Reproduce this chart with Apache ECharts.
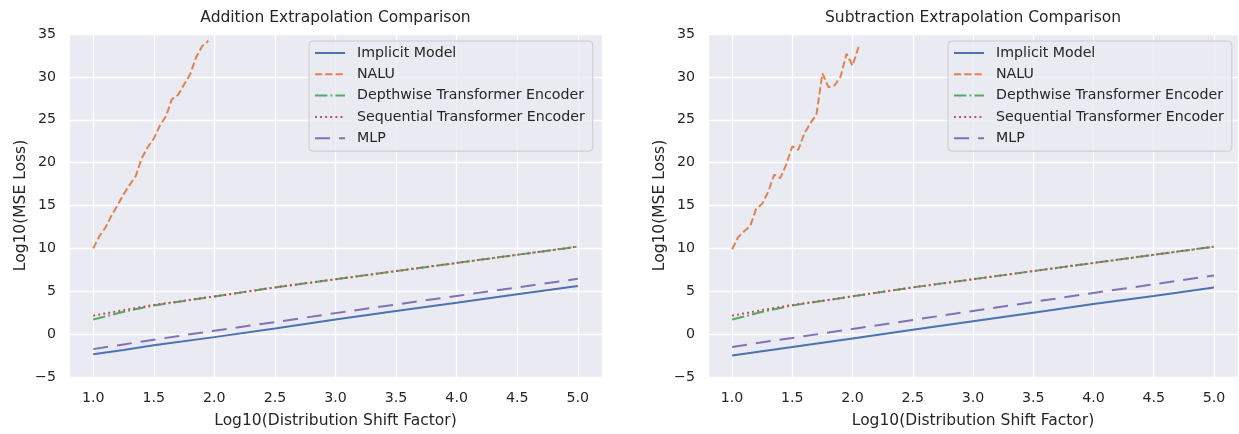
<!DOCTYPE html>
<html>
<head>
<meta charset="utf-8">
<script src="https://cdn.jsdelivr.net/npm/echarts@6/dist/echarts.min.js"></script>
<style>
  html, body { margin: 0; padding: 0; background: #fff; }
  #chart { width: 1239px; height: 434px; }
</style>
</head>
<body>
<div id="chart"></div>
<script>
// x positions (Log10 distribution shift factor)
const xLine = [1.0, 1.25, 1.5, 2.0, 2.5, 3.0, 3.5, 4.0, 4.5, 5.0];
const xNaluAdd = [1.0, 1.05, 1.1, 1.15, 1.2, 1.25, 1.3, 1.35, 1.4, 1.45, 1.5, 1.55, 1.6, 1.65, 1.7, 1.75, 1.8, 1.85, 1.9, 1.95];
const xNaluSub = [1.0, 1.05, 1.1, 1.15, 1.2, 1.25, 1.3, 1.35, 1.4, 1.45, 1.5, 1.55, 1.6, 1.65, 1.7, 1.75, 1.8, 1.85, 1.9, 1.95, 2.0, 2.05];

// addition
const implicitAdd = [-2.35, -1.85, -1.3, -0.35, 0.65, 1.7, 2.7, 3.65, 4.65, 5.6];
const naluAdd = [10.0, 11.4, 12.4, 13.8, 15.0, 16.3, 17.4, 18.4, 20.5, 21.8, 22.8, 24.3, 25.4, 27.4, 27.9, 29.1, 30.3, 32.3, 33.6, 34.2];
const depthAdd = [1.7, 2.6, 3.35, 4.4, 5.45, 6.4, 7.35, 8.3, 9.25, 10.2];
const seqAdd = [2.15, 2.8, 3.4, 4.4, 5.45, 6.4, 7.35, 8.3, 9.25, 10.2];
const mlpAdd = [-1.75, -1.2, -0.65, 0.4, 1.4, 2.45, 3.45, 4.45, 5.45, 6.45];

// subtraction
const implicitSub = [-2.5, -2.0, -1.5, -0.5, 0.5, 1.5, 2.5, 3.5, 4.45, 5.45];
const naluSub = [9.9, 11.3, 12.0, 12.6, 14.6, 15.2, 16.6, 18.6, 18.2, 19.8, 21.9, 21.5, 23.4, 24.6, 25.6, 30.4, 28.8, 29.0, 30.0, 32.7, 31.3, 33.5];
const depthSub = [1.7, 2.6, 3.35, 4.4, 5.45, 6.4, 7.35, 8.3, 9.25, 10.2];
const seqSub = [2.15, 2.8, 3.4, 4.4, 5.45, 6.4, 7.35, 8.3, 9.25, 10.2];
const mlpSub = [-1.5, -0.95, -0.45, 0.6, 1.65, 2.7, 3.75, 4.8, 5.8, 6.85];

const names = ['Implicit Model', 'NALU', 'Depthwise Transformer Encoder', 'Sequential Transformer Encoder', 'MLP'];
const colors = ['#4c72b0', '#dd8452', '#55a868', '#c44e52', '#8172b3'];
const dashes = ['solid', [7.2, 3.1], [12.4, 3.1, 1.9, 3.1], [1.9, 3.2], [15, 9]];

const font = 'DejaVu Sans';
const textColor = '#262626';

function zip(xs, ys) {
  return xs.map((x, i) => [x, ys[i]]);
}

function makeSeries(idx, sets) {
  return sets.map((d, i) => ({
    name: names[i],
    type: 'line',
    xAxisIndex: idx,
    yAxisIndex: idx,
    data: d,
    symbol: 'none',
    showSymbol: false,
    color: colors[i],
    lineStyle: { color: colors[i], width: 2, type: dashes[i] },
    animation: false
  }));
}

function xAxis(idx) {
  return {
    type: 'value', gridIndex: idx, min: 0.8, max: 5.2, splitNumber: 9,
    name: 'Log10(Distribution Shift Factor)', nameLocation: 'middle', nameGap: 36,
    nameTextStyle: { fontFamily: font, fontSize: 15.5, color: textColor },
    axisLine: { show: false }, axisTick: { show: false },
    axisLabel: {
      fontFamily: font, fontSize: 14.2, color: textColor, margin: 14,
      showMinLabel: false, showMaxLabel: false,
      formatter: v => v.toFixed(1)
    },
    splitLine: { lineStyle: { color: '#ffffff', width: 1.3 } }
  };
}

function yAxis(idx) {
  return {
    type: 'value', gridIndex: idx, min: -5, max: 35, interval: 5,
    name: 'Log10(MSE Loss)', nameLocation: 'middle', nameGap: 40,
    nameTextStyle: { fontFamily: font, fontSize: 15.5, color: textColor },
    axisLine: { show: false }, axisTick: { show: false },
    axisLabel: {
      fontFamily: font, fontSize: 14.2, color: textColor, margin: 13,
      formatter: v => (v < 0 ? '\u2212' + Math.abs(v) : String(v))
    },
    splitLine: { lineStyle: { color: '#ffffff', width: 1.3 } }
  };
}

function legend(idx, left) {
  return {
    show: true,
    orient: 'vertical',
    left: left, top: 41,
    padding: [5, 8, 6, 5],
    itemWidth: 30, itemHeight: 14, itemGap: 7.3,
    backgroundColor: 'rgba(234,234,242,0.8)',
    borderColor: '#cccccc', borderWidth: 1, borderRadius: 4,
    itemStyle: { opacity: 0 },
    textStyle: { fontFamily: font, fontSize: 14.2, color: textColor, lineHeight: 14, padding: [0, 0, 0, 7] },
    data: names,
    seriesIndex: idx
  };
}

const chart = echarts.init(document.getElementById('chart'), null, { renderer: 'canvas' });

const seriesAdd = makeSeries(0, [
  zip(xLine, implicitAdd), zip(xNaluAdd, naluAdd), zip(xLine, depthAdd), zip(xLine, seqAdd), zip(xLine, mlpAdd)
]);
const seriesSub = makeSeries(1, [
  zip(xLine, implicitSub), zip(xNaluSub, naluSub), zip(xLine, depthSub), zip(xLine, seqSub), zip(xLine, mlpSub)
]);

chart.setOption({
  animation: false,
  backgroundColor: '#ffffff',
  title: [
    { text: 'Addition Extrapolation Comparison', left: 335.5, top: 10, textAlign: 'center', padding: 0,
      textStyle: { fontFamily: font, fontSize: 15.5, fontWeight: 'normal', color: textColor } },
    { text: 'Subtraction Extrapolation Comparison', left: 973, top: 10, textAlign: 'center', padding: 0,
      textStyle: { fontFamily: font, fontSize: 15.5, fontWeight: 'normal', color: textColor } }
  ],
  grid: [
    { left: 69, top: 34, width: 533, height: 347, show: true, backgroundColor: '#eaeaf2', borderWidth: 0 },
    { left: 708, top: 34, width: 530, height: 347, show: true, backgroundColor: '#eaeaf2', borderWidth: 0 }
  ],
  legend: [legend(0, 309), legend(1, 948)],
  xAxis: [xAxis(0), xAxis(1)],
  yAxis: [yAxis(0), yAxis(1)],
  series: seriesAdd.concat(seriesSub)
});
</script>
</body>
</html>
